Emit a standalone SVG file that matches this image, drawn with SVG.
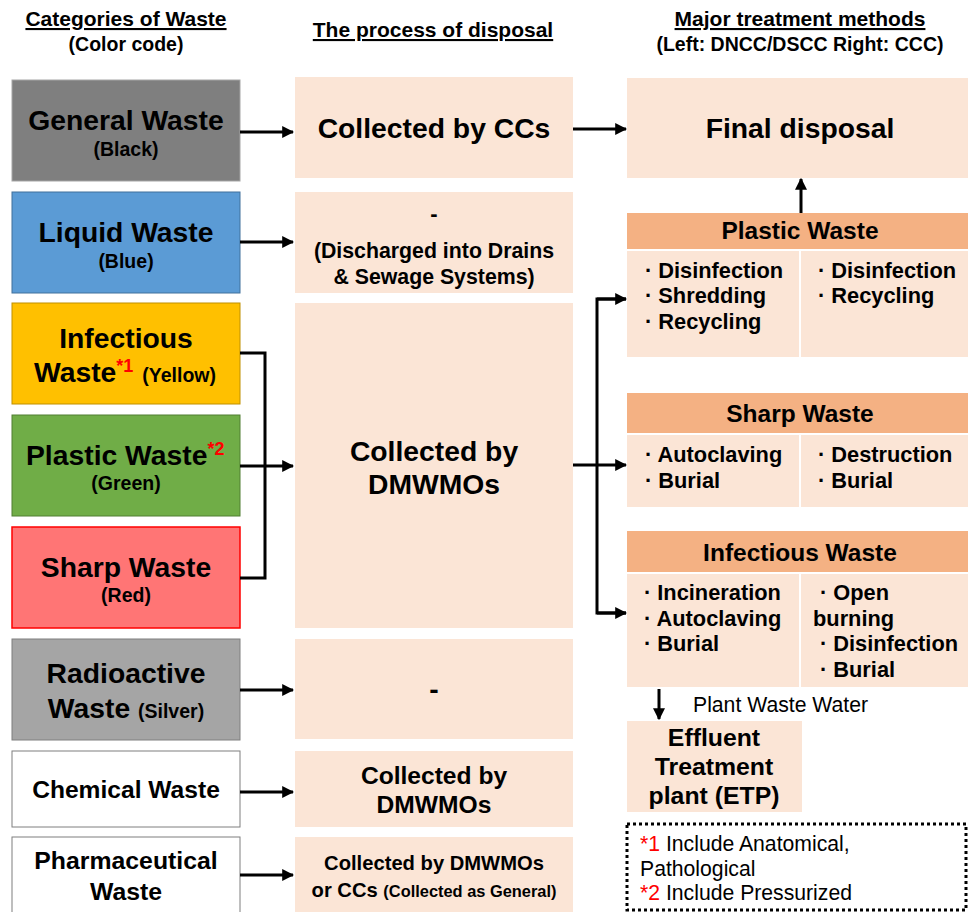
<svg xmlns="http://www.w3.org/2000/svg" width="968" height="912" viewBox="0 0 968 912">
<defs>
<marker id="ah" viewBox="0 0 10 10" refX="9" refY="5" markerWidth="4" markerHeight="4" orient="auto" markerUnits="strokeWidth"><path d="M0,0 L10,5 L0,10 z" fill="#000"/></marker>
<style>
text{font-family:"Liberation Sans",Arial,sans-serif;fill:#000;text-anchor:middle}
.b{font-weight:bold}
.h{font-size:21px;font-weight:bold;text-decoration:underline}
.sh{font-size:19.5px;font-weight:bold}
.big{font-size:28.3px;font-weight:bold}
.sub{font-size:19.5px;font-weight:bold}
.peach{fill:#fbe5d6}
.hdr{fill:#f4b183}
.hd{font-size:24.5px;font-weight:bold}
.item{font-size:21.8px;font-weight:bold;text-anchor:start}
.red{fill:#ff0000}
.conn{stroke:#000;stroke-width:3;fill:none}
</style>
</defs>
<rect width="968" height="912" fill="#fff"/>

<g id="headers">
<text class="h" x="126" y="26">Categories of Waste</text>
<text class="sh" x="126" y="51">(Color code)</text>
<text class="h" x="433" y="37">The process of disposal</text>
<text class="h" x="800" y="26">Major treatment methods</text>
<text class="sh" x="800" y="51">(Left: DNCC/DSCC Right: CCC)</text>
</g>

<g id="general-waste">
<rect x="12" y="80" width="228" height="101" fill="#7f7f7f" stroke="#a5a5a5"/>
<text class="big" x="126" y="130">General Waste</text>
<text class="sub" x="126" y="156">(Black)</text>
</g>
<g id="liquid-waste">
<rect x="12" y="192" width="228" height="101" fill="#5b9bd5" stroke="#41719c"/>
<text class="big" x="126" y="242">Liquid Waste</text>
<text class="sub" x="126" y="268">(Blue)</text>
</g>
<g id="infectious-waste">
<rect x="12" y="303" width="228" height="101" fill="#ffc000" stroke="#bf9000"/>
<text class="big" x="126" y="348">Infectious</text>
<text class="big" x="34" y="382" style="text-anchor:start">Waste<tspan class="red" font-size="18" dy="-10">*1</tspan><tspan font-size="19.5" dy="10" dx="9">(Yellow)</tspan></text>
</g>
<g id="plastic-waste">
<rect x="12" y="415" width="228" height="101" fill="#70ad47" stroke="#507e32"/>
<text class="big" x="26" y="465" style="text-anchor:start">Plastic Waste<tspan class="red" font-size="18" dy="-10">*2</tspan></text>
<text class="sub" x="126" y="490">(Green)</text>
</g>
<g id="sharp-waste">
<rect x="12" y="527" width="228" height="101" fill="#ff7575" stroke="#ff0000" stroke-width="1.5"/>
<text class="big" x="126" y="577">Sharp Waste</text>
<text class="sub" x="126" y="602">(Red)</text>
</g>
<g id="radioactive-waste">
<rect x="12" y="639" width="228" height="101" fill="#a5a5a5" stroke="#7f7f7f"/>
<text class="big" x="126" y="683">Radioactive</text>
<text class="big" x="126" y="718">Waste <tspan font-size="19.5">(Silver)</tspan></text>
</g>
<g id="chemical-waste">
<rect x="12" y="751" width="228" height="76" fill="#fff" stroke="#7f7f7f"/>
<text class="b" font-size="24.6" x="126" y="798">Chemical Waste</text>
</g>
<g id="pharmaceutical-waste">
<rect x="12" y="837" width="228" height="80" fill="#fff" stroke="#7f7f7f"/>
<text class="b" font-size="24.8" x="126" y="869">Pharmaceutical</text>
<text class="b" font-size="24.8" x="126" y="900">Waste</text>
</g>

<g id="collected-ccs">
<rect class="peach" x="295" y="77" width="278" height="101"/>
<text class="big" x="434" y="138">Collected by CCs</text>
</g>
<g id="discharged">
<rect class="peach" x="295" y="192" width="278" height="101"/>
<text class="b" font-size="22" x="434" y="221">-</text>
<text class="b" font-size="21.3" x="434" y="258">(Discharged into Drains</text>
<text class="b" font-size="21.3" x="434" y="284">&amp; Sewage Systems)</text>
</g>
<g id="collected-dmwmos">
<rect class="peach" x="295" y="303" width="278" height="325"/>
<text class="big" x="434" y="461">Collected by</text>
<text class="big" x="434" y="494">DMWMOs</text>
</g>
<g id="radioactive-process">
<rect class="peach" x="295" y="639" width="278" height="100"/>
<text class="big" x="434" y="699">-</text>
</g>
<g id="chemical-process">
<rect class="peach" x="295" y="751" width="278" height="76"/>
<text class="b" font-size="24.6" x="434" y="784">Collected by</text>
<text class="b" font-size="24.6" x="434" y="813">DMWMOs</text>
</g>
<g id="pharma-process">
<rect class="peach" x="295" y="837" width="278" height="80"/>
<text class="b" font-size="20.2" x="434" y="870">Collected by DMWMOs</text>
<text class="b" font-size="20.2" x="434" y="897">or CCs <tspan font-size="16.4">(Collected as General)</tspan></text>
</g>

<g id="final-disposal">
<rect class="peach" x="627" y="78" width="341" height="100"/>
<text class="big" x="800" y="138">Final disposal</text>
</g>
<g id="plastic-treatment">
<rect class="hdr" x="627" y="213" width="341" height="36"/>
<text class="hd" x="800" y="239">Plastic Waste</text>
<rect class="peach" x="627" y="251" width="172" height="106"/>
<rect class="peach" x="801" y="251" width="167" height="106"/>
<text class="item" x="645" y="278">· Disinfection</text>
<text class="item" x="645" y="303">· Shredding</text>
<text class="item" x="645" y="329">· Recycling</text>
<text class="item" x="818" y="278">· Disinfection</text>
<text class="item" x="818" y="303">· Recycling</text>
</g>
<g id="sharp-treatment">
<rect class="hdr" x="627" y="393" width="341" height="40"/>
<text class="hd" x="800" y="422">Sharp Waste</text>
<rect class="peach" x="627" y="435" width="172" height="72"/>
<rect class="peach" x="801" y="435" width="167" height="72"/>
<text class="item" x="645" y="462">· Autoclaving</text>
<text class="item" x="645" y="488">· Burial</text>
<text class="item" x="818" y="462">· Destruction</text>
<text class="item" x="818" y="488">· Burial</text>
</g>
<g id="infectious-treatment">
<rect class="hdr" x="627" y="531" width="341" height="41"/>
<text class="hd" x="800" y="561">Infectious Waste</text>
<rect class="peach" x="627" y="574" width="172" height="113"/>
<rect class="peach" x="801" y="574" width="167" height="113"/>
<text class="item" x="644" y="600">· Incineration</text>
<text class="item" x="644" y="626">· Autoclaving</text>
<text class="item" x="644" y="651">· Burial</text>
<text class="item" x="820" y="600">· Open</text>
<text class="item" x="813" y="626">burning</text>
<text class="item" x="820" y="651">· Disinfection</text>
<text class="item" x="820" y="677">· Burial</text>
</g>
<g id="etp">
<rect class="peach" x="627" y="721" width="175" height="91"/>
<text class="b" font-size="24.8" x="714" y="746">Effluent</text>
<text class="b" font-size="24.8" x="714" y="775">Treatment</text>
<text class="b" font-size="24.8" x="714" y="804">plant (ETP)</text>
</g>
<g id="plant-waste-water-label">
<text font-size="21.2" x="693" y="712" style="text-anchor:start">Plant Waste Water</text>
</g>
<g id="notes">
<rect x="627" y="824" width="339" height="86" fill="none" stroke="#000" stroke-width="3" stroke-dasharray="3,3"/>
<text font-size="21.2" x="640" y="851" style="text-anchor:start"><tspan class="red">*1</tspan> Include Anatomical,</text>
<text font-size="21.2" x="640" y="876" style="text-anchor:start">Pathological</text>
<text font-size="21.2" x="640" y="900" style="text-anchor:start"><tspan class="red">*2</tspan> Include Pressurized</text>
</g>

<g id="connectors">
<line class="conn" x1="240" y1="132" x2="293" y2="132" marker-end="url(#ah)"/>
<line class="conn" x1="240" y1="242" x2="293" y2="242" marker-end="url(#ah)"/>
<polyline class="conn" points="240,353 265,353 265,578 240,578"/>
<line class="conn" x1="240" y1="466" x2="293" y2="466" marker-end="url(#ah)"/>
<line class="conn" x1="240" y1="690" x2="293" y2="690" marker-end="url(#ah)"/>
<line class="conn" x1="240" y1="792" x2="293" y2="792" marker-end="url(#ah)"/>
<line class="conn" x1="240" y1="875" x2="293" y2="875" marker-end="url(#ah)"/>
<line class="conn" x1="573" y1="129" x2="626" y2="129" marker-end="url(#ah)"/>
<line class="conn" x1="573" y1="465" x2="626" y2="465" marker-end="url(#ah)"/>
<polyline class="conn" points="626,299 597,299 597,613 626,613"/>
<line class="conn" x1="597" y1="299" x2="626" y2="299" marker-end="url(#ah)"/>
<line class="conn" x1="597" y1="613" x2="626" y2="613" marker-end="url(#ah)"/>
<line class="conn" x1="801" y1="213" x2="801" y2="179" marker-end="url(#ah)"/>
<line class="conn" x1="659" y1="689" x2="659" y2="719" marker-end="url(#ah)"/>
</g>
</svg>
